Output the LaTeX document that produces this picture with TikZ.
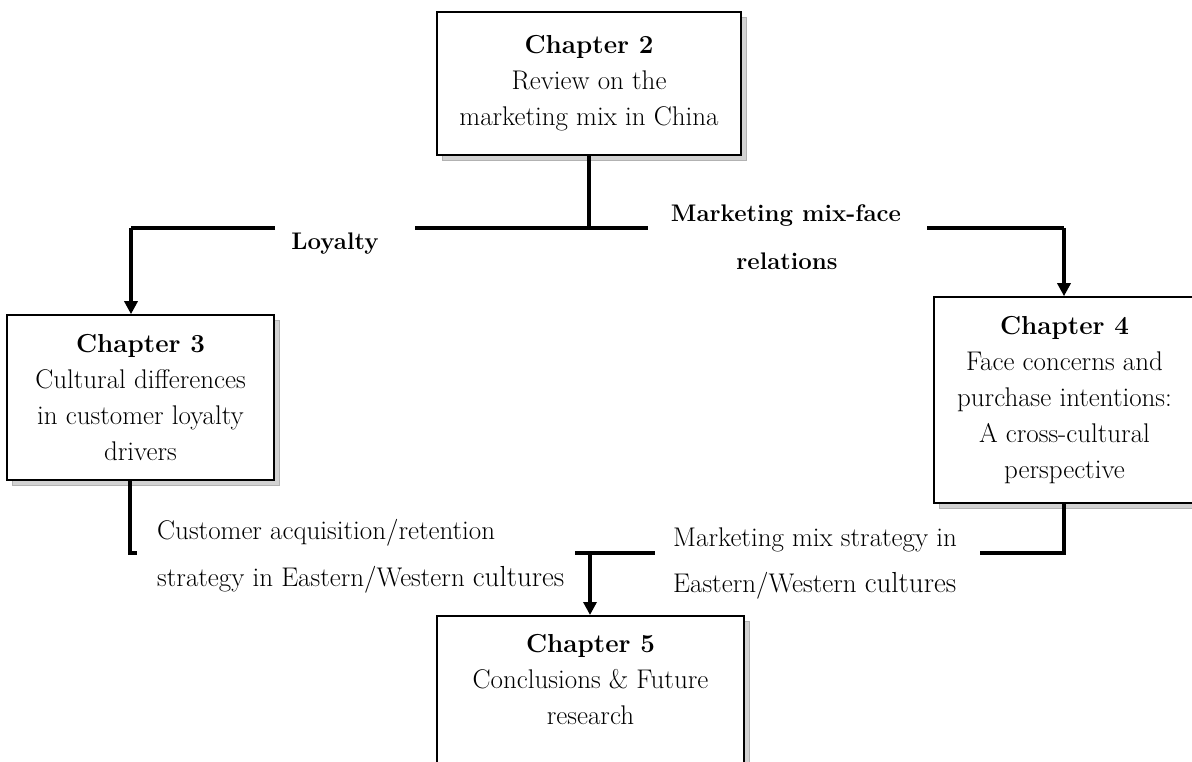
\documentclass[tikz,border=0pt]{standalone}
\usepackage{fontspec}
\usetikzlibrary{arrows.meta,shadows}
\newcommand{\culturesword}{{\fontsize{29}{30}\selectfont cultures}}
\begin{document}
\begin{tikzpicture}[x=1pt,y=-1pt,
 chbox/.style={draw,line width=1.6pt,fill=white,
   general shadow={fill=gray!35,draw=gray!60,line width=0.4pt,shadow xshift=5pt,shadow yshift=-5pt},
   align=center,inner sep=0pt,font=\fontsize{27}{36}\selectfont},
 conn/.style={line width=3.5pt},
 arr/.style={conn,-{Triangle[width=13pt,length=13pt]}},
 lbl/.style={inner sep=0pt,anchor=base west,font=\fontsize{27}{30}\selectfont},
 blbl/.style={inner sep=0pt,anchor=base,font=\bfseries\fontsize{24}{28}\selectfont},
]
\useasboundingbox (0,0) rectangle (1192,762);

% boxes
\node[chbox,minimum width=304,minimum height=143] (box2) at (589,83.5)
  {{\bfseries\fontsize{26}{36}\selectfont Chapter 2}\\Review on the\\marketing mix in China};
\node[chbox,minimum width=267,minimum height=165] (box3) at (140.5,397.5)
  {{\bfseries\fontsize{26}{36}\selectfont Chapter 3}\\Cultural differences\\in customer loyalty\\drivers};
\node[chbox,minimum width=261,minimum height=206] (box4) at (1064.5,400)
  {{\bfseries\fontsize{26}{36}\selectfont Chapter 4}\\Face concerns and\\purchase intentions:\\A cross-cultural\\perspective};
\node[chbox,minimum width=307,minimum height=180,anchor=north] (box5) at (590.5,615) {};
\node[align=center,inner sep=0pt,anchor=north,font=\fontsize{27}{36}\selectfont] (t5) at (590.5,634)
  {{\bfseries\fontsize{26}{36}\selectfont Chapter 5}\\Conclusions \& Future\\research};

% labels
\node[blbl] (lloy) at (335,250) {Loyalty};
\node[blbl] (lmm1) at (786,222) {Marketing mix-face};
\node[blbl] (lmm2) at (787,270) {relations};
\node[lbl] (lca1) at (157,539) {Customer acquisition/retention};
\node[lbl] (lca2) at (157,586) {strategy in Eastern/Western \culturesword};
\node[lbl] (lms1) at (673,546) {Marketing mix strategy in};
\node[lbl] (lms2) at (673,592) {Eastern/Western \culturesword};

% junction coordinates
\coordinate (jt) at (589,228);
\coordinate (jtl) at (415,228);
\coordinate (jtr) at (648,228);
\coordinate (ll1) at (275,228);
\coordinate (ll2) at (131,228);
\coordinate (rr1) at (927,228);
\coordinate (rr2) at (1064,228);
\coordinate (bl1) at (130,553);
\coordinate (bl2) at (137,553);
\coordinate (bm1) at (575,553);
\coordinate (bm2) at (655,553);
\coordinate (bm) at (590,553);
\coordinate (br1) at (980,553);
\coordinate (br2) at (1064,553);

% connectors
\draw[conn] (box2.south -| jt) -- (jt);
\draw[conn] (jtl) -- (jtr);
\draw[conn] (ll1) -- (ll2);
\draw[arr] (ll2) -- (ll2 |- box3.north);
\draw[conn] (rr1) -- (rr2);
\draw[arr] (rr2) -- (rr2 |- box4.north);
\draw[conn] (box3.south -| bl1) -- (bl1) -- (bl2);
\draw[conn] (bm1) -- (bm2);
\draw[arr] (bm) -- (bm |- box5.north);
\draw[conn] (br1) -- (br2) -- (br2 |- box4.south);
\end{tikzpicture}
\end{document}
